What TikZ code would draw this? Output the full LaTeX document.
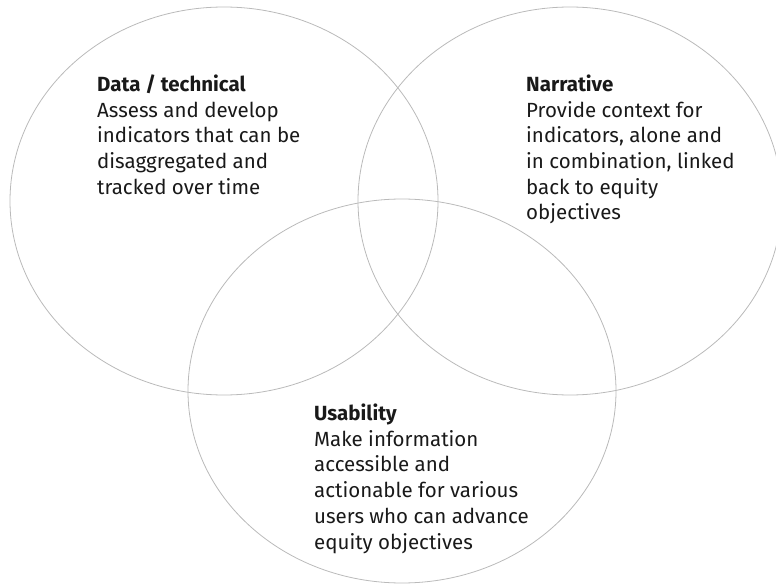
\documentclass[tikz,border=0pt]{standalone}
\usepackage{fontspec}
\setmainfont{Fira Sans}
\begin{document}
\begin{tikzpicture}[x=1pt,y=-1pt,
  venn/.style={draw=black!27, line width=0.8pt},
  lbl/.style={anchor=base west, inner sep=0pt, align=left, text=black!90,
    font=\fontsize{20.5}{25.7}\selectfont}]
\useasboundingbox (0,0) rectangle (776,585);
\draw[venn] (224,201) ellipse [x radius=214, y radius=194];
\draw[venn] (570,201) ellipse [x radius=212, y radius=194];
\draw[venn] (402,391) ellipse [x radius=214, y radius=192];
% anchor is the baseline of the last line
\node[lbl] (data) at (97,194.2) {\textbf{Data / technical}\\Assess and develop\\indicators that can be\\disaggregated and\\tracked over time};
\node[lbl] (narr) at (526,219.9) {\textbf{Narrative}\\Provide context for\\indicators, alone and\\in combination, linked\\back to equity\\objectives};
\node[lbl] (usab) at (314,549) {\textbf{Usability}\\Make information\\accessible and\\actionable for various\\users who can advance\\equity objectives};
\end{tikzpicture}
\end{document}
